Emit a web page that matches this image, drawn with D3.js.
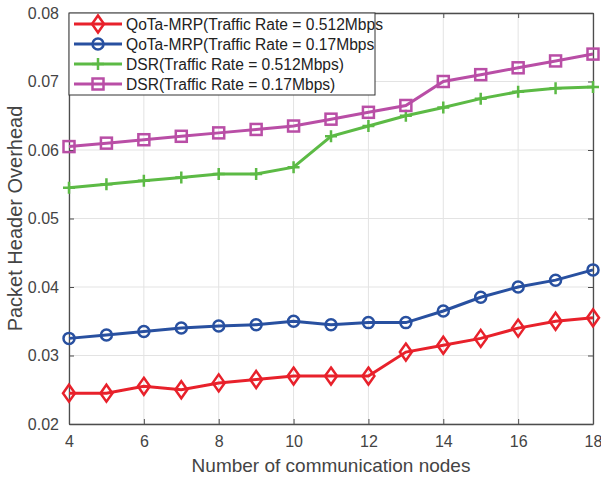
<!DOCTYPE html>
<html>
<head>
<meta charset="utf-8">
<script src="https://cdn.jsdelivr.net/npm/d3@7"></script>
<style>
  body { margin: 0; background: #fff; }
  text { font-family: "Liberation Sans", Arial, sans-serif; }
</style>
</head>
<body>
<svg id="chart" width="601" height="479"></svg>
<script>
// Data
const nodes = [4, 5, 6, 7, 8, 9, 10, 11, 12, 13, 14, 15, 16, 17, 18];
const qotaFast = [0.0245, 0.0245, 0.0255, 0.025, 0.026, 0.0265, 0.027, 0.027, 0.027, 0.0305, 0.0315, 0.0325, 0.034, 0.035, 0.0355];
const qotaSlow = [0.0325, 0.033, 0.0335, 0.034, 0.0343, 0.0345, 0.035, 0.0345, 0.0348, 0.0348, 0.0365, 0.0385, 0.040, 0.041, 0.0425];
const dsrFast = [0.0545, 0.055, 0.0555, 0.056, 0.0565, 0.0565, 0.0575, 0.062, 0.0635, 0.065, 0.0662, 0.0675, 0.0685, 0.069, 0.0692];
const dsrSlow = [0.0605, 0.061, 0.0615, 0.062, 0.0625, 0.063, 0.0635, 0.0645, 0.0655, 0.0665, 0.070, 0.071, 0.072, 0.073, 0.074];
const xTicks = [4, 6, 8, 10, 12, 14, 16, 18];
const yTicks = [0.02, 0.03, 0.04, 0.05, 0.06, 0.07, 0.08];
const seriesNames = [
    "QoTa-MRP(Traffic Rate = 0.512Mbps",
    "QoTa-MRP(Traffic Rate = 0.17Mbps",
    "DSR(Traffic Rate = 0.512Mbps)",
    "DSR(Traffic Rate = 0.17Mbps)"
];

const series = [
    { name: seriesNames[0], values: qotaFast, color: "#e8212b", marker: "diamond" },
    { name: seriesNames[1], values: qotaSlow, color: "#2850a0", marker: "circle" },
    { name: seriesNames[2], values: dsrFast, color: "#5cba45", marker: "plus" },
    { name: seriesNames[3], values: dsrSlow, color: "#b94ea6", marker: "square" }
];

const svg = d3.select("#chart");
const margin = { left: 69, top: 13, right: 8, bottom: 55 };
const width = 601 - margin.left - margin.right;
const height = 479 - margin.top - margin.bottom;

const x = d3.scaleLinear().domain([4, 18]).range([0, width]);
const y = d3.scaleLinear().domain([0.02, 0.08]).range([height, 0]);

const g = svg.append("g").attr("transform", `translate(${margin.left},${margin.top})`);

// Grid
g.append("g")
    .selectAll("line")
    .data(xTicks)
    .join("line")
    .attr("x1", d => x(d)).attr("x2", d => x(d))
    .attr("y1", 0).attr("y2", height)
    .attr("stroke", "#e3e3e3").attr("stroke-width", 1);
g.append("g")
    .selectAll("line")
    .data(yTicks)
    .join("line")
    .attr("y1", d => y(d)).attr("y2", d => y(d))
    .attr("x1", 0).attr("x2", width)
    .attr("stroke", "#e3e3e3").attr("stroke-width", 1);

// Axes
const axisColor = "#4d4d4d";
const xAxis = g.append("g")
    .attr("transform", `translate(0,${height})`)
    .call(d3.axisBottom(x).tickValues(xTicks).tickSize(-5).tickSizeOuter(0).tickPadding(12));
const yAxis = g.append("g")
    .call(d3.axisLeft(y).tickValues(yTicks).tickSize(-5).tickSizeOuter(0).tickPadding(10)
        .tickFormat(d3.format(".2f")));
const topAxis = g.append("g")
    .call(d3.axisTop(x).tickValues(xTicks).tickSize(-5).tickSizeOuter(0).tickFormat(""));
const rightAxis = g.append("g")
    .attr("transform", `translate(${width},0)`)
    .call(d3.axisRight(y).tickValues(yTicks).tickSize(-5).tickSizeOuter(0).tickFormat(""));

[xAxis, yAxis, topAxis, rightAxis].forEach(a => {
    a.selectAll("path").attr("stroke", axisColor).attr("stroke-width", 1.3);
    a.selectAll("line").attr("stroke", axisColor);
    a.selectAll("text").attr("fill", "#444").style("font-size", "16px");
});

// Axis titles
svg.append("text")
    .attr("x", margin.left + width / 2)
    .attr("y", 472)
    .attr("text-anchor", "middle")
    .attr("fill", "#444")
    .style("font-size", "19px")
    .text("Number of communication nodes");
svg.append("text")
    .attr("transform", `translate(22,${margin.top + height / 2}) rotate(-90)`)
    .attr("text-anchor", "middle")
    .attr("fill", "#444")
    .style("font-size", "20px")
    .text("Packet Header Overhead");

// Markers
function drawMarker(sel, type, color) {
    if (type === "diamond") {
        sel.append("path").attr("d", "M0,-8.5L6,0L0,8.5L-6,0Z")
            .attr("fill", "none").attr("stroke", color).attr("stroke-width", 2.5);
    } else if (type === "circle") {
        sel.append("circle").attr("r", 5.5)
            .attr("fill", "none").attr("stroke", color).attr("stroke-width", 2.5);
    } else if (type === "plus") {
        sel.append("path").attr("d", "M-6,0H6M0,-6V6")
            .attr("fill", "none").attr("stroke", color).attr("stroke-width", 2.5);
    } else if (type === "square") {
        sel.append("rect").attr("x", -5.5).attr("y", -5.5).attr("width", 11).attr("height", 11)
            .attr("fill", "none").attr("stroke", color).attr("stroke-width", 2.5);
    }
}

const line = d3.line().x((d, i) => x(nodes[i])).y(d => y(d));

series.forEach(s => {
    g.append("path")
        .datum(s.values)
        .attr("d", line)
        .attr("fill", "none")
        .attr("stroke", s.color)
        .attr("stroke-width", 3);
    g.append("g")
        .selectAll("g")
        .data(s.values)
        .join("g")
        .attr("transform", (d, i) => `translate(${x(nodes[i])},${y(d)})`)
        .each(function () { drawMarker(d3.select(this), s.marker, s.color); });
});

// Legend
const legend = svg.append("g").attr("transform", "translate(69,13)");
legend.append("rect")
    .attr("x", 0).attr("y", 0).attr("width", 306).attr("height", 82)
    .attr("fill", "#fff").attr("stroke", "#333").attr("stroke-width", 1);
series.forEach((s, i) => {
    const row = legend.append("g").attr("transform", `translate(0,${11 + i * 20})`);
    row.append("line").attr("x1", 5).attr("x2", 53).attr("y1", 0).attr("y2", 0)
        .attr("stroke", s.color).attr("stroke-width", 3);
    drawMarker(row.append("g").attr("transform", "translate(29,0)"), s.marker, s.color);
    row.append("text")
        .attr("x", 57).attr("y", 5.5)
        .attr("fill", "#222")
        .style("font-size", "15.6px")
        .text(s.name);
});
</script>
</body>
</html>
